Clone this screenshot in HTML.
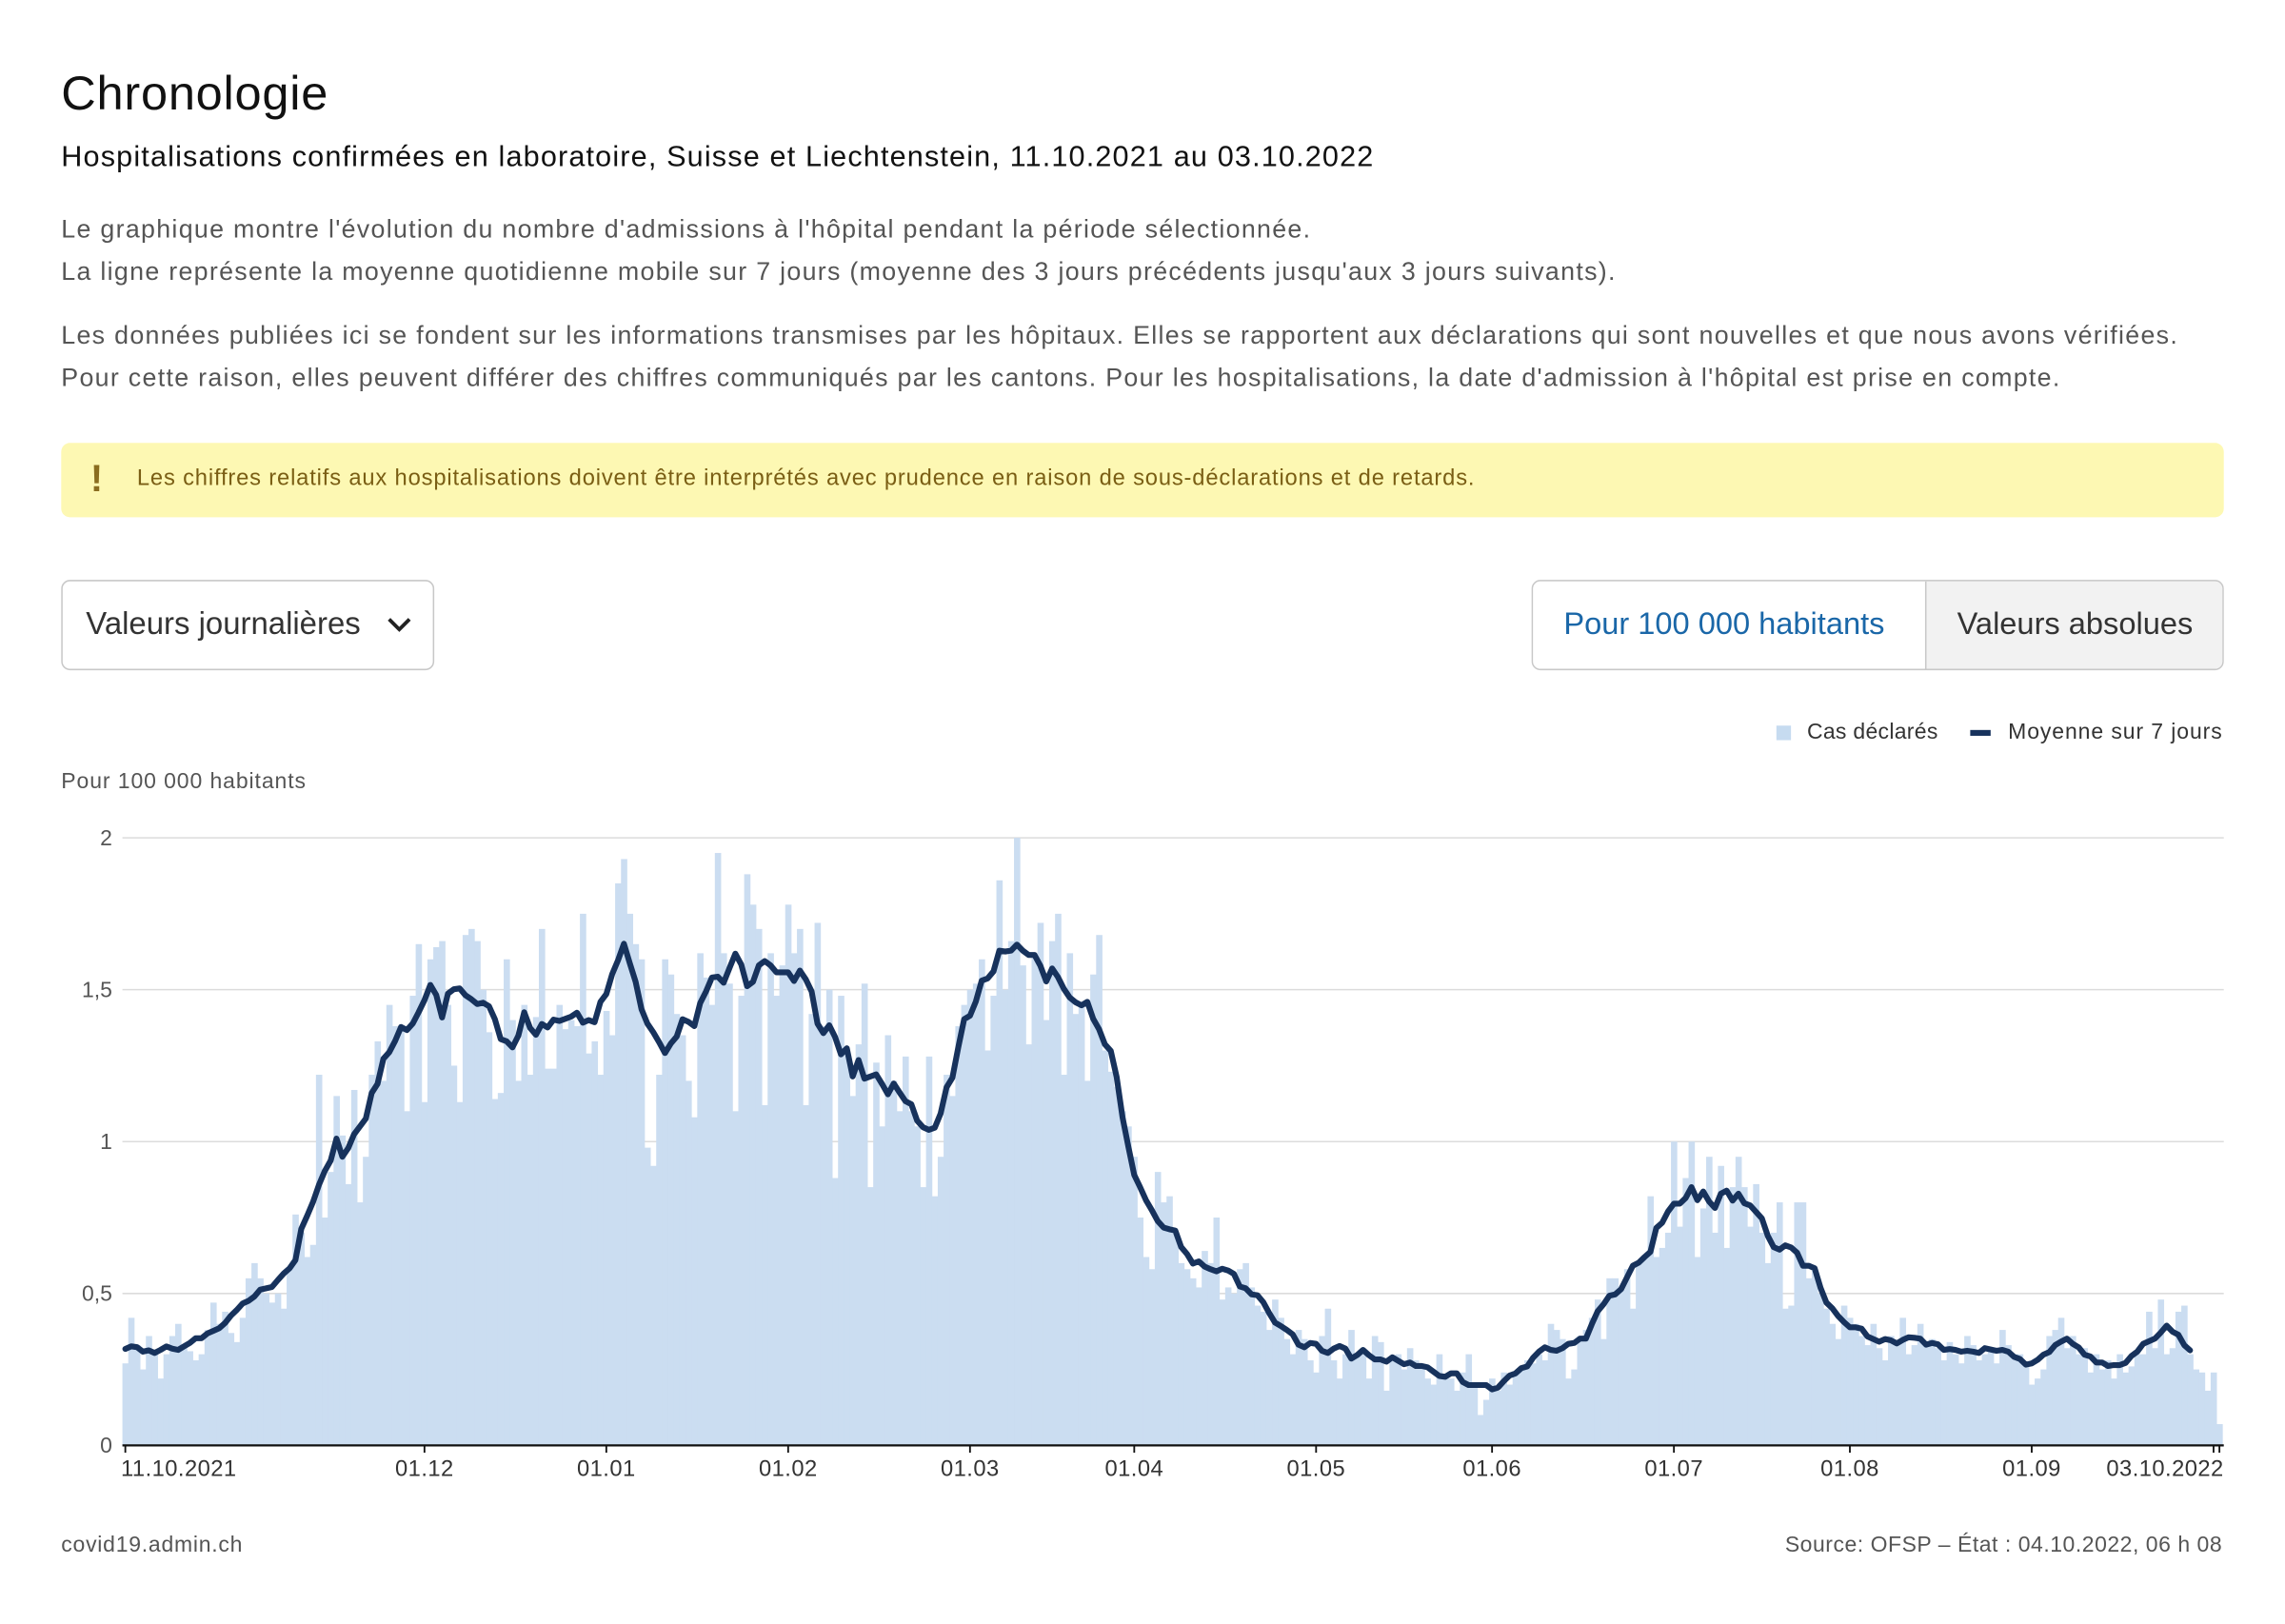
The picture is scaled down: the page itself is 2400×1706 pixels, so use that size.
<!DOCTYPE html>
<html><head><meta charset="utf-8"><style>
html,body{margin:0;padding:0;background:#fff;overflow:hidden}
body{width:2400px;height:1706px}
#wrap{width:1568px;height:1115px;transform:scale(1.530612);transform-origin:0 0;position:relative;font-family:"Liberation Sans",sans-serif;color:#222}
.abs{position:absolute}
p{margin:0}
</style></head><body>
<div id="wrap">
<div class="abs" style="left:42px;top:45px;font-size:33px;letter-spacing:0.5px;color:#111">Chronologie</div>
<div class="abs" style="left:42px;top:97px;font-size:20px;letter-spacing:0.75px;color:#111;white-space:nowrap">Hospitalisations confirmées en laboratoire, Suisse et Liechtenstein, 11.10.2021 au 03.10.2022</div>
<div class="abs" style="left:42px;top:143px;font-size:17.5px;letter-spacing:0.85px;line-height:29px;color:#555;white-space:nowrap">Le graphique montre l'évolution du nombre d'admissions à l'hôpital pendant la période sélectionnée.<br>La ligne représente la moyenne quotidienne mobile sur 7 jours (moyenne des 3 jours précédents jusqu'aux 3 jours suivants).</div>
<div class="abs" style="left:42px;top:216px;font-size:17.5px;letter-spacing:0.85px;line-height:29px;color:#555;white-space:nowrap">Les données publiées ici se fondent sur les informations transmises par les hôpitaux. Elles se rapportent aux déclarations qui sont nouvelles et que nous avons vérifiées.<br>Pour cette raison, elles peuvent différer des chiffres communiqués par les cantons. Pour les hospitalisations, la date d'admission à l'hôpital est prise en compte.</div>
<div class="abs" style="left:42px;top:304px;width:1484px;height:51px;background:#fdf8b3;border-radius:6px">
 <div class="abs" style="left:20px;top:9px;font-size:26px;font-weight:bold;color:#8a6d1f">!</div>
 <div class="abs" style="left:52px;top:16px;font-size:15.5px;letter-spacing:0.55px;color:#7a5e14;white-space:nowrap">Les chiffres relatifs aux hospitalisations doivent être interprétés avec prudence en raison de sous-déclarations et de retards.</div>
</div>
<div class="abs" style="left:42px;top:398px;width:256px;height:62px;border:1px solid #c8c8c8;border-radius:6px;box-sizing:border-box">
 <div class="abs" style="left:16px;top:17px;font-size:21.5px;color:#333">Valeurs journalières</div>
 <svg class="abs" style="left:222px;top:24px" width="18" height="12"><path d="M2 2 L9 9 L16 2" stroke="#222" stroke-width="2.5" fill="none"/></svg>
</div>
<div class="abs" style="left:1051px;top:398px;width:475px;height:62px;border:1px solid #c8c8c8;border-radius:6px;box-sizing:border-box;overflow:hidden">
 <div class="abs" style="left:0;top:0;width:269px;height:60px;background:#fff"><div style="padding:17px 0 0 21px;font-size:21.3px;color:#1a67a8;white-space:nowrap">Pour 100 000 habitants</div></div>
 <div class="abs" style="left:269px;top:0;width:206px;height:60px;background:#f2f2f2;border-left:1px solid #c8c8c8"><div style="padding:17px 0 0 21px;font-size:21.3px;color:#333;white-space:nowrap">Valeurs absolues</div></div>
</div>
<div class="abs" style="left:1219px;top:498px;width:10px;height:10px;background:#c6dbf0"></div>
<div class="abs" style="left:1240px;top:494px;font-size:15px;letter-spacing:0.2px;color:#333">Cas déclarés</div>
<div class="abs" style="left:1352px;top:501px;width:14px;height:4px;background:#17325c"></div>
<div class="abs" style="left:1378px;top:494px;font-size:15px;letter-spacing:0.6px;color:#333;white-space:nowrap">Moyenne sur 7 jours</div>
<div class="abs" style="left:42px;top:528px;font-size:15px;letter-spacing:0.6px;color:#555">Pour 100 000 habitants</div>
<svg id="chart" class="abs" style="left:0;top:0" width="1568" height="1115"></svg>
<div class="abs" style="left:42px;top:1052px;font-size:15px;letter-spacing:0.5px;color:#555">covid19.admin.ch</div>
<div class="abs" style="right:43px;top:1052px;font-size:15px;letter-spacing:0.35px;color:#555;white-space:nowrap">Source: OFSP – État : 04.10.2022, 06 h 08</div>
</div>
<script>
const oct21=[0.27,0.42,0.33,0.25,0.36,0.31,0.22,0.30,0.36,0.40,0.33,0.31,0.28,0.30,0.38,0.47,0.40,0.44,0.37,0.34,0.42];
const nov21=[0.55,0.60,0.55,0.50,0.47,0.50,0.45,0.58,0.76,0.70,0.62,0.66,1.22,0.75,0.90,1.15,1.02,0.86,1.17,0.80,0.95,1.22,1.33,1.20,1.45,1.38,1.38,1.10,1.48,1.65];
const dec21=[1.13,1.60,1.64,1.66,1.45,1.25,1.13,1.68,1.70,1.66,1.50,1.36,1.14,1.16,1.60,1.40,1.20,1.45,1.22,1.41,1.70,1.24,1.24,1.45,1.37,1.40,1.38,1.75,1.29,1.33,1.22];
const jan22=[1.43,1.35,1.85,1.93,1.75,1.65,1.60,0.98,0.92,1.22,1.60,1.55,1.42,1.35,1.20,1.08,1.62,1.54,1.45,1.95,1.62,1.52,1.10,1.48,1.88,1.78,1.70,1.12,1.62,1.48,1.58];
const feb22=[1.78,1.62,1.70,1.12,1.42,1.72,1.38,1.50,0.88,1.48,1.30,1.15,1.32,1.52,0.85,1.26,1.05,1.35,1.20,1.10,1.28,1.10,1.05,0.85,1.28,0.82,0.95,1.22];
const mar22=[1.15,1.38,1.45,1.50,1.52,1.60,1.30,1.48,1.86,1.50,1.66,2.00,1.58,1.32,1.62,1.72,1.40,1.66,1.75,1.22,1.62,1.42,1.45,1.20,1.55,1.68,1.30,1.23,1.18,1.10,1.05];
const apr22=[0.95,0.75,0.62,0.58,0.90,0.80,0.82,0.70,0.60,0.58,0.55,0.52,0.64,0.60,0.75,0.48,0.52,0.50,0.58,0.60,0.52,0.46,0.44,0.38,0.48,0.42,0.35,0.30,0.38,0.35];
const may22=[0.28,0.24,0.36,0.45,0.28,0.22,0.30,0.38,0.30,0.30,0.22,0.36,0.34,0.18,0.28,0.30,0.25,0.32,0.28,0.26,0.22,0.20,0.30,0.22,0.22,0.18,0.24,0.30,0.20,0.10,0.15];
const jun22=[0.22,0.18,0.24,0.20,0.24,0.25,0.28,0.27,0.30,0.28,0.40,0.38,0.35,0.22,0.25,0.36,0.38,0.42,0.48,0.35,0.55,0.55,0.52,0.58,0.45,0.60,0.62,0.82,0.62,0.65];
const jul22=[0.70,1.00,0.72,0.88,1.00,0.62,0.78,0.95,0.70,0.92,0.65,0.85,0.95,0.85,0.72,0.86,0.70,0.60,0.70,0.80,0.45,0.46,0.80,0.80,0.55,0.58,0.50,0.45,0.40,0.35,0.46];
const aug22=[0.42,0.40,0.36,0.33,0.40,0.32,0.28,0.36,0.34,0.42,0.30,0.33,0.40,0.34,0.35,0.32,0.28,0.34,0.30,0.27,0.36,0.33,0.28,0.30,0.32,0.27,0.38,0.33,0.30,0.30,0.26];
const sep22=[0.20,0.22,0.25,0.36,0.38,0.42,0.32,0.36,0.30,0.32,0.24,0.30,0.25,0.28,0.22,0.30,0.24,0.26,0.30,0.30,0.44,0.32,0.48,0.30,0.32,0.44,0.46,0.30,0.25,0.24];
const oct22=[0.18,0.24,0.07];
const yTicks=[0,0.5,1,1.5,2];
const yTickLabels=["0","0,5","1","1,5","2"];
const xTickDays=[0,51,82,113,144,172,203,233,264,294,325,356,357];
const xTickLabels=["11.10.2021","01.12","01.01","01.02","01.03","01.04","01.05","01.06","01.07","01.08","01.09","",""];

const values=[].concat(oct21,nov21,dec21,jan22,feb22,mar22,apr22,may22,jun22,jul22,aug22,sep22,oct22);
const NS="http://www.w3.org/2000/svg";
const svg=document.getElementById('chart');
const X0=86,X1=1523,Y0=992,Y1=575,YMAX=2;
const n=values.length;
const xs=i=>X0+i*(X1-X0)/(n-1);
const ys=v=>Y0-(v/YMAX)*(Y0-Y1);
const bw=(X1-X0)/(n-1);
const FONT='Liberation Sans, sans-serif';
function mk(t,a){const e=document.createElementNS(NS,t);for(const k in a)e.setAttribute(k,a[k]);svg.appendChild(e);return e;}
yTicks.forEach((t,i)=>{
  if(t>0){const g=mk('line',{x1:84,x2:1526,y1:ys(t),y2:ys(t),stroke:'#dcdcdc','stroke-width':1});
  
  }
  const l=mk('text',{x:77,y:ys(t)+5,'text-anchor':'end','font-size':15,fill:'#555','font-family':FONT});
  l.textContent=yTickLabels[i];
  
  
});
values.forEach((v,i)=>{
  const r=mk('rect',{x:xs(i)-bw/2,y:ys(v),width:bw+0.3,height:Y0-ys(v),fill:'#cbddf1'});
  
  
});
const pts=[];
for(let i=0;i<n-5;i++){let s=0,c=0;for(let k=-3;k<=3;k++){if(i+k>=0){s+=values[i+k];c++;}}pts.push(xs(i).toFixed(2)+','+ys(s/c).toFixed(2));}
const line=mk('polyline',{points:pts.join(' '),fill:'none',stroke:'#17325c','stroke-width':4,'stroke-linejoin':'round','stroke-linecap':'round'});


const ax=mk('line',{x1:84,x2:1526,y1:Y0,y2:Y0,stroke:'#111','stroke-width':1.5});


xTickDays.forEach((d,i)=>{
  const t=mk('line',{x1:xs(d),x2:xs(d),y1:Y0,y2:Y0+5,stroke:'#111','stroke-width':1.2});
  
  
  if(xTickLabels[i]){
  const l=mk('text',{x:xs(d)+(d===0?-3:0),y:1013,'text-anchor':d===0?'start':'middle','font-size':15.5,'letter-spacing':0.3,fill:'#333','font-family':FONT});
  l.textContent=xTickLabels[i];
  
  }
});
const le=mk('text',{x:1526,y:1013,'text-anchor':'end','font-size':15.5,'letter-spacing':0.3,fill:'#333','font-family':FONT});
le.textContent="03.10.2022";


</script>
</body></html>
